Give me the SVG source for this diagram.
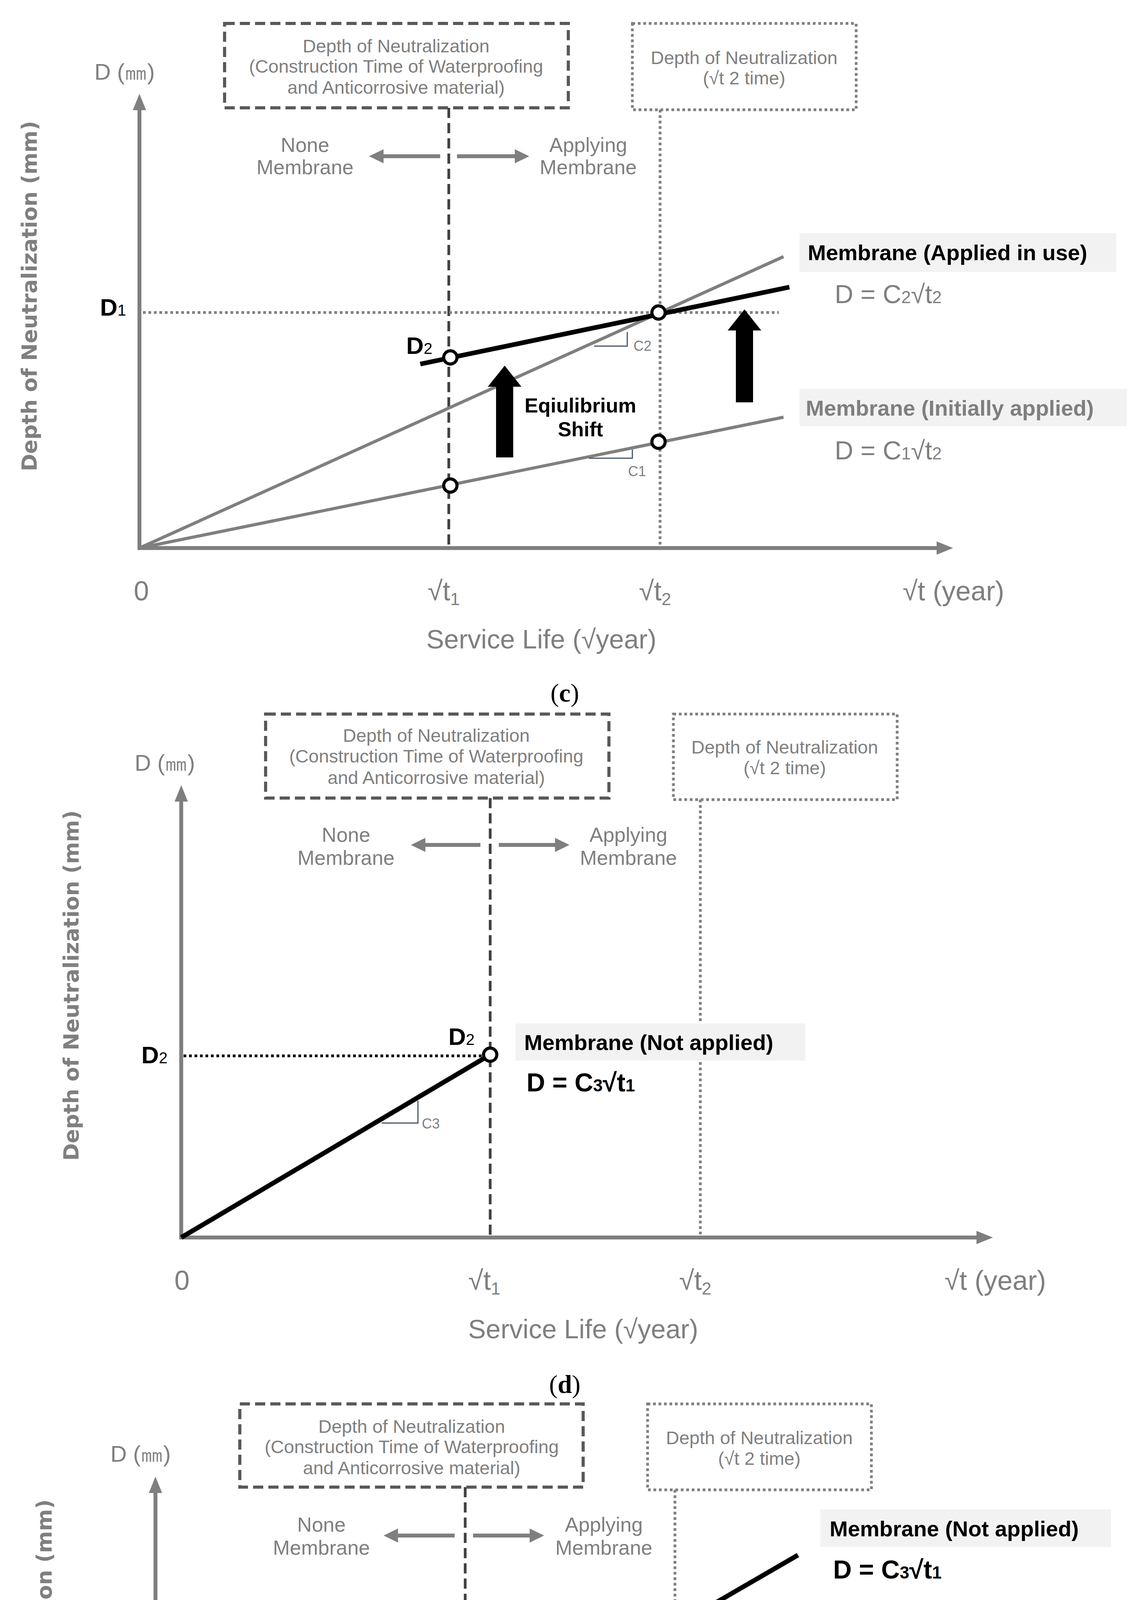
<svg xmlns="http://www.w3.org/2000/svg" width="2911" height="5385" viewBox="0 0 2911 5385">
<defs>
<style>
.t{font-family:"Liberation Sans",Arial,sans-serif;fill:#7f7f7f;text-anchor:middle}
.st{text-anchor:start}
.bt{font-size:47px}
.nm{font-size:52px}
.dm{font-size:58px}
.ax{stroke:#7f7f7f;stroke-width:10;fill:none}
.gl{stroke:#7f7f7f;stroke-width:8;fill:none}
.kl{stroke:#000;stroke-width:12;fill:none}
.dash{stroke:#404040;stroke-width:7;stroke-dasharray:26 13;fill:none}
.dot{stroke:#7f7f7f;stroke-width:7;stroke-dasharray:7 7;fill:none}
.kdot{stroke:#000;stroke-width:7;stroke-dasharray:7 7;fill:none}
.box1{stroke:#595959;stroke-width:8;stroke-dasharray:26 13;fill:#fff}
.box2{stroke:#7f7f7f;stroke-width:7;stroke-dasharray:7 7;fill:#fff}
.pt{fill:#fff;stroke:#000;stroke-width:8}
.ah{fill:#7f7f7f}
.tri{stroke:#44546a;stroke-width:3;fill:none}
.lab{font-family:"Liberation Sans",Arial,sans-serif;font-weight:bold}
.ml{font-size:56px}
.dl{font-size:62px;fill:#000}
.sub{font-size:40px;font-weight:normal}
.eq{font-size:66px}
.es{font-size:44px}
.ylab{font-family:"DejaVu Sans",sans-serif;font-weight:bold;font-size:54px;fill:#7f7f7f;text-anchor:middle}
.tick{font-family:"Liberation Sans",Arial,sans-serif;font-size:70px;fill:#7f7f7f;text-anchor:middle}
.ts{font-size:44px}
.sl{font-size:68px}
.sm{font-size:36px}
.cap{font-family:"Liberation Serif","Times New Roman",serif;font-size:66px;text-anchor:middle;fill:#000}
</style>
</defs>

<!-- ===== Panel (c) ===== -->
<g id="panel-c">
<g id="c-connectors">
<line class="ax" x1="357" y1="1403" x2="357" y2="270"/>
<polygon class="ah" points="357,240 340,282 374,282"/>
<line class="ax" x1="352" y1="1403" x2="2410" y2="1403"/>
<polygon class="ah" points="2440,1403 2398,1386 2398,1420"/>
<line class="dash" x1="1149" y1="276" x2="1149" y2="1403"/>
<line class="dot" x1="1690" y1="281" x2="1690" y2="1403"/>
<line class="dot" x1="366" y1="800" x2="1994" y2="800"/>
<line class="gl" x1="357" y1="1403" x2="2006" y2="657"/>
<line class="gl" x1="357" y1="1403" x2="2006" y2="1068"/>
<line class="kl" x1="1076" y1="932" x2="2021" y2="735"/>
<polyline class="tri" points="1521,886 1606,886 1606,850"/>
<polyline class="tri" points="1508,1173 1619,1173 1619,1151"/>
<line class="ax" x1="1127" y1="400" x2="975" y2="400"/>
<polygon class="ah" points="945,400 982,382 982,418"/>
<line class="ax" x1="1170" y1="400" x2="1322" y2="400"/>
<polygon class="ah" points="1355,400 1318,382 1318,418"/>
<polygon fill="#000" points="1270,1171 1270,990 1249,990 1292,936 1335,990 1314,990 1314,1171"/>
<polygon fill="#000" points="1884,1030 1884,846 1863,846 1906,792 1949,846 1928,846 1928,1030"/>
</g>
<g id="c-box1"><rect class="box1" x="575" y="60" width="880" height="216"/>
<text class="t bt" x="1014" y="134">Depth of Neutralization</text>
<text class="t bt" x="1014" y="186">(Construction Time of Waterproofing</text>
<text class="t bt" x="1014" y="240">and Anticorrosive material)</text></g>
<g id="c-box2"><rect class="box2" x="1619" y="60" width="573" height="221"/>
<text class="t bt" x="1905" y="164">Depth of Neutralization</text>
<text class="t bt" x="1905" y="216">(√t 2 time)</text></g>
<text class="t dm" x="319" y="204">D (㎜)</text>
<text class="t nm" x="781" y="389">None</text>
<text class="t nm" x="781" y="446">Membrane</text>
<text class="t nm" x="1506" y="389">Applying</text>
<text class="t nm" x="1506" y="446">Membrane</text>
<text class="ylab" transform="translate(94,758) rotate(-90)">Depth of Neutralization (mm)</text>
<text class="lab dl" x="256" y="808">D<tspan class="sub">1</tspan></text>
<text class="lab dl" x="1040" y="906">D<tspan class="sub">2</tspan></text>
<g id="c-points">
<circle class="pt" cx="1153" cy="915" r="17"/>
<circle class="pt" cx="1686" cy="800" r="17"/>
<circle class="pt" cx="1686" cy="1131" r="17"/>
<circle class="pt" cx="1153" cy="1243" r="17"/>
</g>
<text class="lab" font-size="52" x="1486" y="1056" text-anchor="middle">Eqiulibrium</text>
<text class="lab" font-size="52" x="1486" y="1117" text-anchor="middle">Shift</text>
<text class="t st sm" x="1622" y="898">C2</text>
<text class="t st sm" x="1608" y="1219">C1</text>
<g id="c-label1"><rect x="2047" y="597" width="811" height="99" fill="#f2f2f2"/>
<text class="lab ml" x="2068" y="666" fill="#000">Membrane (Applied in use)</text></g>
<text class="t st eq" x="2137" y="776">D = C<tspan class="es">2</tspan>√t<tspan class="es">2</tspan></text>
<g id="c-label2"><rect x="2047" y="996" width="838" height="95" fill="#f2f2f2"/>
<text class="lab ml" x="2063" y="1064" fill="#7f7f7f">Membrane (Initially applied)</text></g>
<text class="t st eq" x="2137" y="1176">D = C<tspan class="es">1</tspan>√t<tspan class="es">2</tspan></text>
<text class="tick" x="362" y="1537">0</text>
<text class="tick" x="1136" y="1537">√t<tspan class="ts" dy="12">1</tspan></text>
<text class="tick" x="1677" y="1537">√t<tspan class="ts" dy="12">2</tspan></text>
<text class="tick" x="2441" y="1537">√t (year)</text>
<text class="tick sl" x="1386" y="1660">Service Life (√year)</text>
<text class="cap" x="1446" y="1796">(<tspan font-weight="bold">c</tspan>)</text>
</g>

<!-- ===== Panel (d) ===== -->
<g id="panel-d">
<g id="d-connectors">
<line class="ax" x1="464" y1="3168" x2="464" y2="2040"/>
<polygon class="ah" points="464,2010 447,2052 481,2052"/>
<line class="ax" x1="459" y1="3168" x2="2512" y2="3168"/>
<polygon class="ah" points="2542,3168 2500,3151 2500,3185"/>
<line class="dash" x1="1255" y1="2043" x2="1255" y2="3168"/>
<line class="dot" x1="1793" y1="2047" x2="1793" y2="3168"/>
<line class="kdot" x1="470" y1="2703" x2="1240" y2="2703"/>
<line class="kl" stroke-width="10" x1="464" y1="3168" x2="1255" y2="2700"/>
<polyline class="tri" points="977,2875 1070,2875 1070,2818"/>
<line class="ax" x1="1230" y1="2163" x2="1082" y2="2163"/>
<polygon class="ah" points="1052,2163 1089,2145 1089,2181"/>
<line class="ax" x1="1277" y1="2163" x2="1425" y2="2163"/>
<polygon class="ah" points="1458,2163 1421,2145 1421,2181"/>
</g>
<g id="d-box1"><rect class="box1" x="680" y="1828" width="879" height="215"/>
<text class="t bt" x="1117" y="1899">Depth of Neutralization</text>
<text class="t bt" x="1117" y="1952">(Construction Time of Waterproofing</text>
<text class="t bt" x="1117" y="2007">and Anticorrosive material)</text></g>
<g id="d-box2"><rect class="box2" x="1724" y="1828" width="573" height="219"/>
<text class="t bt" x="2009" y="1929">Depth of Neutralization</text>
<text class="t bt" x="2009" y="1982">(√t 2 time)</text></g>
<text class="t dm" x="422" y="1973">D (㎜)</text>
<text class="t nm" x="886" y="2155">None</text>
<text class="t nm" x="886" y="2214">Membrane</text>
<text class="t nm" x="1609" y="2155">Applying</text>
<text class="t nm" x="1609" y="2214">Membrane</text>
<text class="ylab" transform="translate(201,2523) rotate(-90)">Depth of Neutralization (mm)</text>
<text class="lab dl" x="362" y="2722">D<tspan class="sub">2</tspan></text>
<text class="lab dl" x="1148" y="2675">D<tspan class="sub">2</tspan></text>
<circle class="pt" cx="1255" cy="2700" r="17"/>
<text class="t st sm" x="1080" y="2889">C3</text>
<g id="d-label"><rect x="1320" y="2620" width="742" height="95" fill="#f2f2f2"/>
<text class="lab ml" x="1342" y="2688" fill="#000">Membrane (Not applied)</text></g>
<text class="lab eq" x="1348" y="2794" fill="#000">D = C<tspan class="es">3</tspan>√t<tspan class="es">1</tspan></text>
<text class="tick" x="466" y="3302">0</text>
<text class="tick" x="1240" y="3302">√t<tspan class="ts" dy="12">1</tspan></text>
<text class="tick" x="1780" y="3302">√t<tspan class="ts" dy="12">2</tspan></text>
<text class="tick" x="2548" y="3302">√t (year)</text>
<text class="tick sl" x="1493" y="3426">Service Life (√year)</text>
<text class="cap" x="1446" y="3566">(<tspan font-weight="bold">d</tspan>)</text>
</g>

<!-- ===== Panel (e) ===== -->
<g id="panel-e">
<g id="e-connectors">
<line class="ax" x1="398" y1="4934" x2="398" y2="3810"/>
<polygon class="ah" points="398,3780 381,3822 415,3822"/>
<line class="ax" x1="393" y1="4934" x2="2446" y2="4934"/>
<polygon class="ah" points="2476,4934 2434,4917 2434,4951"/>
<line class="dash" x1="1191" y1="3807" x2="1191" y2="4934"/>
<line class="dot" x1="1728" y1="3814" x2="1728" y2="4934"/>
<line class="kdot" x1="409" y1="4155" x2="2032" y2="4155"/>
<line class="kdot" x1="409" y1="4468" x2="1179" y2="4468"/>
<line class="kl" stroke-width="10" x1="398" y1="4934" x2="2043" y2="3981"/>
<polyline class="tri" points="1544,4270 1653,4270 1653,4211"/>
<line class="ax" x1="1164" y1="3931" x2="1012" y2="3931"/>
<polygon class="ah" points="982,3931 1019,3913 1019,3949"/>
<line class="ax" x1="1211" y1="3931" x2="1360" y2="3931"/>
<polygon class="ah" points="1393,3931 1356,3913 1356,3949"/>
</g>
<g id="e-box1"><rect class="box1" x="614" y="3594" width="879" height="213"/>
<text class="t bt" x="1054" y="3668">Depth of Neutralization</text>
<text class="t bt" x="1054" y="3720">(Construction Time of Waterproofing</text>
<text class="t bt" x="1054" y="3774">and Anticorrosive material)</text></g>
<g id="e-box2"><rect class="box2" x="1658" y="3594" width="573" height="220"/>
<text class="t bt" x="1944" y="3697">Depth of Neutralization</text>
<text class="t bt" x="1944" y="3750">(√t 2 time)</text></g>
<text class="t dm" x="360" y="3742">D (㎜)</text>
<text class="t nm" x="823" y="3921">None</text>
<text class="t nm" x="823" y="3980">Membrane</text>
<text class="t nm" x="1546" y="3921">Applying</text>
<text class="t nm" x="1546" y="3980">Membrane</text>
<text class="ylab" transform="translate(132,4287) rotate(-90)">Depth of Neutralization (mm)</text>
<text class="lab dl" x="300" y="4176">D<tspan class="sub">3</tspan></text>
<text class="lab dl" x="300" y="4489">D<tspan class="sub">2</tspan></text>
<text class="lab dl" x="1752" y="4228">D<tspan class="sub">3</tspan></text>
<circle class="pt" cx="1191" cy="4466" r="17"/>
<circle class="pt" cx="1724" cy="4158" r="17"/>
<text class="t st sm" x="1662" y="4278">C3</text>
<g id="e-label"><rect x="2100" y="3864" width="745" height="96" fill="#f2f2f2"/>
<text class="lab ml" x="2124" y="3933" fill="#000">Membrane (Not applied)</text></g>
<text class="lab eq" x="2133" y="4041" fill="#000">D = C<tspan class="es">3</tspan>√t<tspan class="es">1</tspan></text>
<text class="tick" x="400" y="5066">0</text>
<text class="tick" x="1174" y="5066">√t<tspan class="ts" dy="12">1</tspan></text>
<text class="tick" x="1715" y="5066">√t<tspan class="ts" dy="12">2</tspan></text>
<text class="tick" x="2483" y="5066">√t (year)</text>
<text class="tick sl" x="1427" y="5192">Service Life (√year)</text>
<text class="cap" x="1446" y="5327">(<tspan font-weight="bold">e</tspan>)</text>
</g>
</svg>
